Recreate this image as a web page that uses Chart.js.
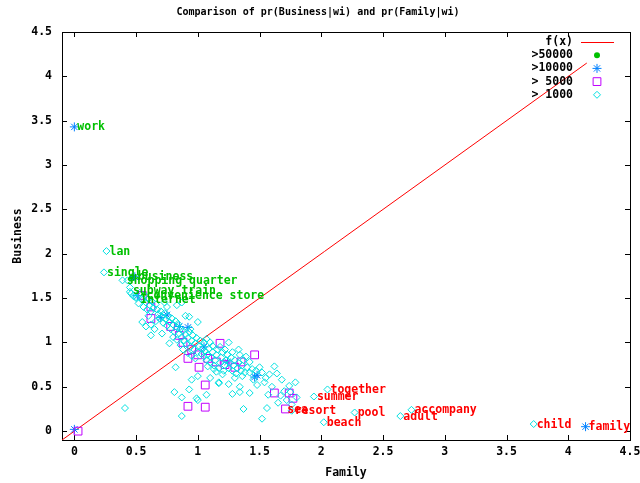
<!DOCTYPE html>
<html><head><meta charset="utf-8">
<script src="https://cdn.jsdelivr.net/npm/chart.js@4.4.1/dist/chart.umd.min.js"></script>
<style>html,body{margin:0;padding:0;background:#fff}canvas{display:block}</style>
</head><body>
<canvas id="c" width="640" height="483"></canvas>
<script>
const titleText = 'Comparison of pr(Business|wi) and pr(Family|wi)';
const xTitle = 'Family';
const yTitle = 'Business';
const axisMin = -0.1, axisMax = 4.5;
const tickValues = [0, 0.5, 1, 1.5, 2, 2.5, 3, 3.5, 4, 4.5];
const tickLabels = ['0', '0.5', '1', '1.5', '2', '2.5', '3', '3.5', '4', '4.5'];
const legendNames = ['f(x)', '>50000', '>10000', '> 5000', '> 1000'];

// f(x) = x, sampled over the data range
const fLine = [[-0.1, -0.1], [4.15, 4.15]];

const over50000 = [[0.47, 1.73]];

const over10000 = [[0.0, 3.43], [0.49, 1.74], [0.51, 1.53], [0.75, 1.31], [0.92, 1.17], [1.24, 0.78],
  [1.46, 0.61], [1.48, 0.63], [0.0, 0.02], [4.14, 0.05], [0.70, 1.28], [1.05, 0.95], [0.85, 1.18]];

const over5000 = [[0.03, 0.0], [0.55, 1.53], [0.62, 1.40], [0.62, 1.27], [0.88, 1.0], [1.0, 0.86], [1.01, 0.72],
  [1.18, 0.99], [1.30, 0.72], [1.46, 0.86], [1.06, 0.52], [0.92, 0.28], [1.06, 0.27], [1.62, 0.43], [1.74, 0.43],
  [1.77, 0.37], [1.71, 0.25], [0.85, 1.08], [0.95, 0.92], [1.08, 0.82], [1.15, 0.78], [1.22, 0.75], [0.78, 1.18],
  [1.35, 0.78], [0.92, 0.82]];

const over1000 = [
  [0.46, 1.55], [0.50, 1.50], [0.53, 1.56], [0.55, 1.48], [0.57, 1.53], [0.58, 1.45], [0.60, 1.49], [0.61, 1.42],
  [0.63, 1.46], [0.64, 1.39], [0.52, 1.44], [0.56, 1.40], [0.66, 1.43], [0.59, 1.37], [0.48, 1.52], [0.62, 1.35],
  [0.67, 1.37], [0.68, 1.32], [0.70, 1.35], [0.71, 1.29], [0.73, 1.33], [0.74, 1.26], [0.76, 1.30], [0.77, 1.23],
  [0.79, 1.27], [0.80, 1.20], [0.82, 1.24], [0.83, 1.17], [0.69, 1.27], [0.72, 1.22], [0.75, 1.19], [0.78, 1.15],
  [0.81, 1.12], [0.84, 1.21], [0.86, 1.15], [0.66, 1.24], [0.73, 1.45], [0.75, 1.40], [0.83, 1.42], [0.87, 1.45],
  [0.90, 1.30], [0.93, 1.29], [1.00, 1.23], [0.55, 1.23], [0.71, 1.10], [0.77, 0.99], [0.65, 1.15], [0.60, 1.30],
  [0.62, 1.08],
  [0.85, 1.10], [0.87, 1.06], [0.88, 1.13], [0.89, 1.02], [0.90, 1.09], [0.91, 0.98], [0.92, 1.05], [0.93, 1.12],
  [0.94, 0.95], [0.95, 1.02], [0.96, 1.08], [0.97, 0.92], [0.98, 0.99], [0.99, 1.05], [1.00, 0.89], [1.01, 0.96],
  [1.02, 1.02], [1.03, 0.87], [1.04, 0.93], [0.86, 0.97], [0.88, 0.92], [0.92, 0.88], [0.95, 0.85], [0.98, 0.82],
  [0.83, 1.03], [0.80, 1.06], [0.94, 1.15], [1.05, 1.00], [1.07, 1.04],
  [1.05, 0.84], [1.06, 0.90], [1.07, 0.80], [1.08, 0.86], [1.09, 0.93], [1.10, 0.77], [1.11, 0.83], [1.12, 0.89],
  [1.13, 0.74], [1.14, 0.80], [1.15, 0.86], [1.16, 0.92], [1.17, 0.71], [1.18, 0.77], [1.19, 0.83], [1.20, 0.89],
  [1.21, 0.68], [1.22, 0.74], [1.23, 0.80], [1.24, 0.86], [1.25, 0.71], [1.12, 0.96], [1.08, 0.73], [1.15, 0.67],
  [1.18, 0.95], [1.22, 0.92], [1.10, 1.00], [1.25, 1.00], [1.13, 0.70], [1.20, 0.64],
  [1.26, 0.77], [1.27, 0.83], [1.28, 0.68], [1.29, 0.74], [1.30, 0.80], [1.31, 0.65], [1.32, 0.71], [1.33, 0.77],
  [1.34, 0.86], [1.35, 0.68], [1.36, 0.74], [1.37, 0.80], [1.38, 0.66], [1.40, 0.72], [1.42, 0.78], [1.28, 0.89],
  [1.33, 0.92], [1.39, 0.84], [1.30, 0.60], [1.36, 0.62], [1.42, 0.66], [1.44, 0.70],
  [1.47, 0.68], [1.50, 0.72], [1.52, 0.66], [1.55, 0.60], [1.54, 0.55], [1.58, 0.64], [1.62, 0.73], [1.64, 0.65],
  [1.57, 0.41], [1.65, 0.32], [1.72, 0.35], [1.74, 0.51], [1.75, 0.44], [1.42, 0.43], [1.34, 0.44], [1.37, 0.25],
  [1.52, 0.14], [1.56, 0.26], [1.68, 0.58], [1.79, 0.55], [1.60, 0.50], [1.48, 0.52], [1.45, 0.58], [1.70, 0.45],
  [1.67, 0.40], [1.80, 0.38], [1.76, 0.30],
  [0.41, 0.26], [0.81, 0.44], [0.87, 0.38], [0.87, 0.17], [0.99, 0.37], [1.00, 0.35], [1.07, 0.41], [1.17, 0.55],
  [1.34, 0.50], [1.17, 0.54], [0.93, 0.47], [1.25, 0.53], [1.10, 0.60], [1.00, 0.62], [0.95, 0.58], [0.82, 0.72],
  [1.28, 0.42],
  [0.24, 1.79], [0.26, 2.03], [0.39, 1.70], [0.43, 1.70], [0.45, 1.57], [0.50, 1.51], [0.55, 1.50], [0.45, 1.62],
  [0.62, 1.20], [0.58, 1.18],
  [2.05, 0.47], [1.94, 0.39], [1.76, 0.23], [2.02, 0.10], [2.27, 0.21], [2.64, 0.17], [2.73, 0.24], [3.72, 0.08]
];

// word labels: text, position (data units), colour group
const labelTexts = ['work', 'lan', 'single', 'business', 'shopping quarter', 'subway train', 'convenience store', 'Internet',
  'together', 'summer', 'sea', 'resort', 'beach', 'pool', 'adult', 'accompany', 'child', 'family'];
const labelX = [0.0, 0.26, 0.24, 0.49, 0.40, 0.45, 0.56, 0.51,
  2.05, 1.94, 1.70, 1.76, 2.02, 2.27, 2.64, 2.73, 3.72, 4.14];
const labelY = [3.43, 2.03, 1.79, 1.74, 1.70, 1.59, 1.53, 1.48,
  0.47, 0.39, 0.24, 0.23, 0.10, 0.21, 0.17, 0.24, 0.08, 0.05];
const labelIsBusiness = [1, 1, 1, 1, 1, 1, 1, 1, 0, 0, 0, 0, 0, 0, 0, 0, 0, 0];

const RED = '#ff0000', GREEN = '#00c000', BLUE = '#0080ff', PURPLE = '#c000ff', CYAN = '#00e0e0';
const FONT = '"DejaVu Sans Mono", monospace';
const toXY = a => a.map(p => ({x: p[0], y: p[1]}));

function drawSymbol(ctx, style, x, y, r, color) {
  ctx.save();
  ctx.strokeStyle = color; ctx.fillStyle = color; ctx.lineWidth = 1;
  ctx.beginPath();
  if (style === 'circle') { ctx.arc(x, y, r, 0, Math.PI * 2); ctx.fill(); }
  else if (style === 'star') {
    ctx.moveTo(x - r, y); ctx.lineTo(x + r, y); ctx.moveTo(x, y - r); ctx.lineTo(x, y + r);
    const d = r * Math.SQRT1_2;
    ctx.moveTo(x - d, y - d); ctx.lineTo(x + d, y + d); ctx.moveTo(x - d, y + d); ctx.lineTo(x + d, y - d);
    ctx.stroke();
  } else if (style === 'rect') { const s = r * Math.SQRT1_2; ctx.rect(x - s, y - s, 2 * s, 2 * s); ctx.stroke(); }
  else if (style === 'rectRot') {
    ctx.moveTo(x - r, y); ctx.lineTo(x, y - r); ctx.lineTo(x + r, y); ctx.lineTo(x, y + r); ctx.closePath(); ctx.stroke();
  }
  ctx.restore();
}

const frameAndText = {
  id: 'frameAndText',
  beforeDatasetsDraw(chart) {
    const {ctx, chartArea: a, scales: {x, y}} = chart;
    ctx.save();
    ctx.strokeStyle = '#000'; ctx.lineWidth = 1;
    ctx.strokeRect(Math.round(a.left) + 0.5, Math.round(a.top) + 0.5, Math.round(a.right - a.left), Math.round(a.bottom - a.top));
    const tl = 5;
    ctx.beginPath();
    x.ticks.forEach(t => {
      const px = Math.round(x.getPixelForValue(t.value)) + 0.5;
      ctx.moveTo(px, a.bottom); ctx.lineTo(px, a.bottom - tl);
      ctx.moveTo(px, a.top); ctx.lineTo(px, a.top + tl);
    });
    y.ticks.forEach(t => {
      const py = Math.round(y.getPixelForValue(t.value)) + 0.5;
      ctx.moveTo(a.left, py); ctx.lineTo(a.left + tl, py);
      ctx.moveTo(a.right, py); ctx.lineTo(a.right - tl, py);
    });
    ctx.stroke();
    ctx.fillStyle = '#000';
    ctx.font = 'bold 10px ' + FONT;
    ctx.textAlign = 'center'; ctx.textBaseline = 'middle';
    ctx.fillText(titleText, 318, 12);
    ctx.restore();
  },
  afterDatasetsDraw(chart) {
    const {ctx, chartArea: a, scales: {x, y}} = chart;
    ctx.save();
    ctx.font = 'bold 11.5px ' + FONT;
    ctx.textBaseline = 'middle'; ctx.textAlign = 'left';
    labelTexts.forEach((t, i) => {
      ctx.fillStyle = labelIsBusiness[i] ? GREEN : RED;
      ctx.fillText(t, x.getPixelForValue(labelX[i]) + 3, y.getPixelForValue(labelY[i]) + 0.5);
    });
    const tx = a.right - 57, sx = a.right - 33, top = a.top + 10, step = 13.2;
    ctx.textAlign = 'right';
    chart.data.datasets.forEach((ds, i) => {
      const yy = top + i * step;
      ctx.fillStyle = '#000';
      ctx.fillText(legendNames[i], tx, yy);
      if (i === 0) {
        ctx.strokeStyle = RED; ctx.lineWidth = 1; ctx.beginPath();
        ctx.moveTo(a.right - 49, Math.round(yy) + 0.5); ctx.lineTo(a.right - 16, Math.round(yy) + 0.5); ctx.stroke();
      } else {
        drawSymbol(ctx, ds.pointStyle, sx, yy, ds.pointRadius, ds.borderColor);
      }
    });
    ctx.restore();
  }
};

const tickFont = {family: FONT, weight: 'bold', size: 11.5};
const setTicks = s => { s.ticks = tickValues.map(v => ({value: v})); };
const tickText = (v) => { const i = tickValues.findIndex(t => Math.abs(t - v) < 1e-9); return i >= 0 ? tickLabels[i] : ''; };

new Chart(document.getElementById('c'), {
  type: 'scatter',
  data: {
    datasets: [
      {type: 'line', label: 'f(x)', data: toXY(fLine), borderColor: RED, borderWidth: 1, pointRadius: 0, fill: false, order: 5},
      {label: '>50000', data: toXY(over50000), pointStyle: 'circle', pointRadius: 3, borderColor: GREEN, backgroundColor: GREEN, borderWidth: 1, order: 4},
      {label: '>10000', data: toXY(over10000), pointStyle: 'star', pointRadius: 4.5, borderColor: BLUE, backgroundColor: BLUE, borderWidth: 1, order: 3},
      {label: '> 5000', data: toXY(over5000), pointStyle: 'rect', pointRadius: 5.5, borderColor: PURPLE, backgroundColor: 'rgba(0,0,0,0)', borderWidth: 1, order: 2},
      {label: '> 1000', data: toXY(over1000), pointStyle: 'rectRot', pointRadius: 3.5, borderColor: CYAN, backgroundColor: 'rgba(0,0,0,0)', borderWidth: 1, order: 1}
    ]
  },
  options: {
    responsive: false, animation: false, devicePixelRatio: 1,
    layout: {padding: {top: 32, right: 10, left: 0, bottom: 0}},
    plugins: {legend: {display: false}, tooltip: {enabled: false}, title: {display: false}},
    elements: {point: {hoverRadius: 0}},
    scales: {
      x: {
        type: 'linear', min: axisMin, max: axisMax,
        afterBuildTicks: setTicks,
        afterFit: s => { s.height = 43; s.paddingLeft = 0; s.paddingRight = 0; },
        ticks: {autoSkip: false, maxRotation: 0, padding: 5, color: '#000', font: tickFont, callback: v => tickText(v)},
        grid: {display: false, drawTicks: false}, border: {display: false},
        title: {display: true, text: xTitle, color: '#000', font: tickFont, padding: {top: 0, bottom: 3}}
      },
      y: {
        type: 'linear', min: axisMin, max: axisMax,
        afterBuildTicks: setTicks,
        afterFit: s => { s.width = 62; s.paddingTop = 0; s.paddingBottom = 0; },
        ticks: {autoSkip: false, padding: 10, color: '#000', font: tickFont, callback: v => tickText(v)},
        grid: {display: false, drawTicks: false}, border: {display: false},
        title: {display: true, text: yTitle, color: '#000', font: tickFont, padding: {top: 11, bottom: 0}}
      }
    }
  },
  plugins: [frameAndText]
});
</script>
</body></html>
